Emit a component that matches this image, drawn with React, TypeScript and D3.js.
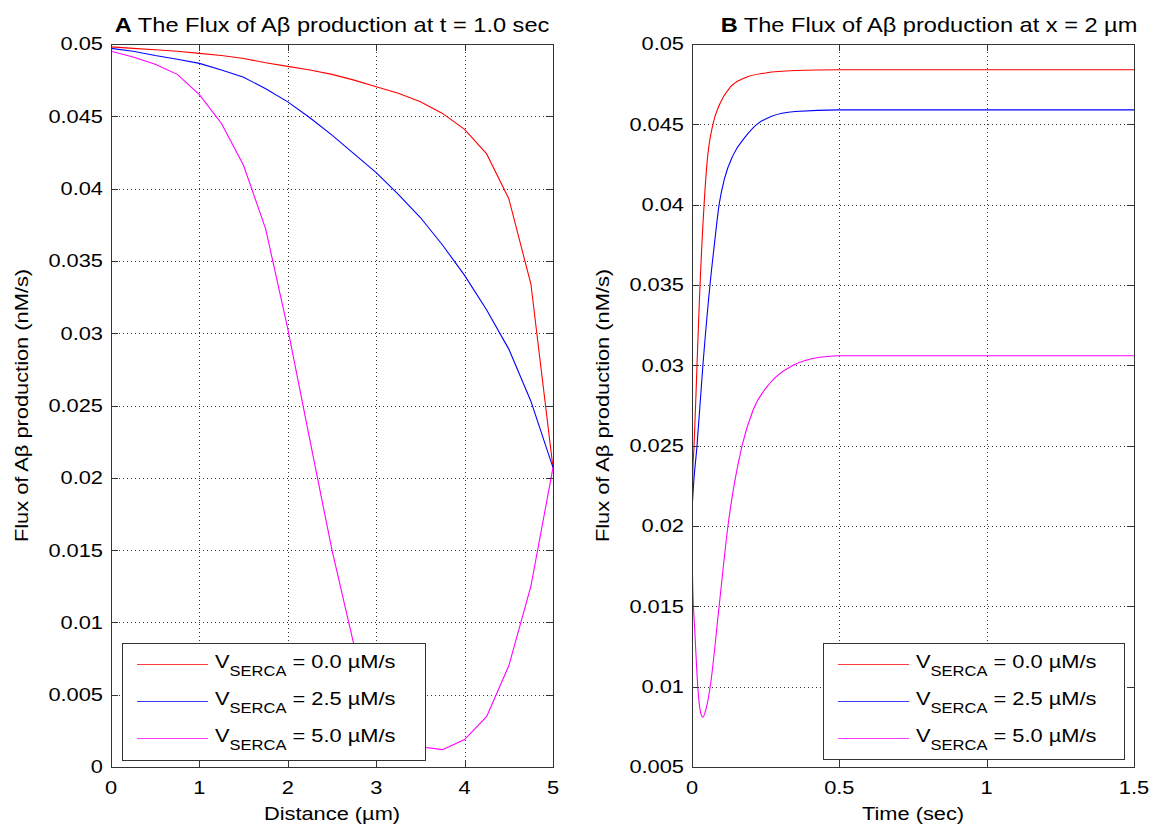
import React from 'react';
import * as d3 from 'd3';

// ---------- Panel A data (t = 1.0 sec) ----------
const distance = [0, 0.25, 0.5, 0.75, 1, 1.25, 1.5, 1.75, 2, 2.25, 2.5, 2.75, 3, 3.25, 3.5, 3.75, 4, 4.25, 4.5, 4.75, 5];
const fluxA_V00 = [0.0498, 0.0497, 0.0496, 0.0495, 0.04935, 0.0492, 0.049, 0.0487, 0.04845, 0.0482, 0.0479, 0.0475, 0.04705, 0.0466, 0.046, 0.0452, 0.0441, 0.0424, 0.0393, 0.0334, 0.0207];
const fluxA_V25 = [0.0497, 0.0495, 0.0492, 0.04895, 0.04866, 0.0482, 0.0477, 0.0469, 0.046, 0.0449, 0.0437, 0.0424, 0.0411, 0.0396, 0.038, 0.0361, 0.034, 0.0316, 0.0289, 0.0253, 0.0207];
const fluxA_V50 = [0.0495, 0.0491, 0.0486, 0.0479, 0.0465, 0.0445, 0.0416, 0.0372, 0.0303, 0.0226, 0.015, 0.0084, 0.0046, 0.0024, 0.0014, 0.0012, 0.0019, 0.0035, 0.007, 0.0125, 0.0207];

// ---------- Panel B data (x = 2 um) ----------
const timeB_V00 = [0, 0.003, 0.007, 0.017, 0.025, 0.041, 0.051, 0.071, 0.095, 0.129, 0.18, 0.25, 0.35, 0.5, 1.0, 1.5];
const fluxB_V00 = [0.0208, 0.0235, 0.025, 0.03, 0.034, 0.04, 0.0426, 0.045, 0.0463, 0.0473, 0.0479, 0.0482, 0.04835, 0.0484, 0.0484, 0.0484];
const timeB_V25 = [0, 0.005, 0.017, 0.037, 0.061, 0.077, 0.092, 0.11, 0.14, 0.18, 0.22, 0.27, 0.35, 0.5, 1.0, 1.5];
const fluxB_V25 = [0.021, 0.0225, 0.025, 0.03, 0.035, 0.0377, 0.04, 0.0416, 0.0431, 0.0442, 0.045, 0.0455, 0.0458, 0.0459, 0.0459, 0.0459];
const timeB_V50 = [0, 0.002, 0.01, 0.02, 0.028, 0.037, 0.046, 0.061, 0.092, 0.122, 0.17, 0.207, 0.265, 0.343, 0.434, 0.5, 1.0, 1.5];
const fluxB_V50 = [0.0186, 0.0166, 0.0133, 0.0099, 0.0085, 0.0081, 0.0085, 0.0099, 0.015, 0.02, 0.025, 0.0272, 0.0289, 0.03, 0.0305, 0.0306, 0.0306, 0.0306];

// ---------- ticks ----------
const xTicksA = [0, 1, 2, 3, 4, 5];
const xTickLabelsA = ['0', '1', '2', '3', '4', '5'];
const yTicksA = [0, 0.005, 0.01, 0.015, 0.02, 0.025, 0.03, 0.035, 0.04, 0.045, 0.05];
const yTickLabelsA = ['0', '0.005', '0.01', '0.015', '0.02', '0.025', '0.03', '0.035', '0.04', '0.045', '0.05'];
const xTicksB = [0, 0.5, 1, 1.5];
const xTickLabelsB = ['0', '0.5', '1', '1.5'];
const yTicksB = [0.005, 0.01, 0.015, 0.02, 0.025, 0.03, 0.035, 0.04, 0.045, 0.05];
const yTickLabelsB = ['0.005', '0.01', '0.015', '0.02', '0.025', '0.03', '0.035', '0.04', '0.045', '0.05'];

const legendValues = ['0.0', '2.5', '5.0'];
const seriesColors = ['#ff0000', '#0000ff', '#ff00ff'];
const legendLineColors = ['#ff3a3a', '#3a3aff', '#ff3aff'];

const SX = 1.18;
const FONT = '"Liberation Sans", Arial, Helvetica, sans-serif';

function T(props: any) {
  const { x, y, anchor = 'start', size = 18.5, weight = 'normal', rotate = 0, dy, children } = props;
  return (
    <text
      transform={`translate(${x},${y}) rotate(${rotate}) scale(${SX},1)`}
      textAnchor={anchor}
      fontSize={size}
      fontFamily={FONT}
      fontWeight={weight}
      dy={dy}
      fill="#000"
    >
      {children}
    </text>
  );
}

function Legend({ x, y, w, h }: any) {
  const rows = [23, 60, 97];
  return (
    <g>
      <rect x={x + 0.5} y={y + 0.5} width={w} height={h} fill="#fff" stroke="#333" strokeWidth={1} />
      {legendValues.map((v, i) => (
        <g key={i}>
          <line x1={x + 15} x2={x + 86} y1={y + rows[i] - 1.5} y2={y + rows[i] - 1.5} stroke={legendLineColors[i]} strokeWidth={1} />
          <text
            transform={`translate(${x + 93},${y + rows[i] + 2}) scale(${SX},1)`}
            fontSize={18.5}
            fontFamily={FONT}
            fill="#000"
          >
            <tspan>V</tspan>
            <tspan fontSize={14} dy={8}>SERCA</tspan>
            <tspan dy={-8}>{` = ${v} \u00b5M/s`}</tspan>
          </text>
        </g>
      ))}
    </g>
  );
}

function Panel(props: any) {
  const {
    id, left, right, top, bottom, xDomain, yDomain, xTicks, xTickLabels, yTicks, yTickLabels,
    series, curve, xLabel, titleLetter, titleRest, titleX, legend,
  } = props;
  const x = d3.scaleLinear().domain(xDomain).range([left, right]);
  const y = d3.scaleLinear().domain(yDomain).range([bottom, top]);
  const line = d3.line<[number, number]>().x(d => x(d[0])).y(d => y(d[1])).curve(curve);
  const tickLen = 7;
  const px = (v: number) => Math.round(v) + 0.5;
  const innerX = xTicks.filter((t: number) => t > xDomain[0] && t < xDomain[1]);
  const innerY = yTicks.filter((t: number) => t > yDomain[0] && t < yDomain[1]);
  return (
    <g>
      <rect x={left} y={top} width={right - left} height={bottom - top} fill="#fff" />
      <defs>
        <clipPath id={`clip-${id}`}>
          <rect x={left} y={top} width={right - left} height={bottom - top} />
        </clipPath>
      </defs>
      {innerX.map((t: number) => (
        <line key={`gx${t}`} x1={px(x(t))} x2={px(x(t))} y1={top} y2={bottom} stroke="#333" strokeWidth={1} strokeDasharray="1,3" />
      ))}
      {innerY.map((t: number) => (
        <line key={`gy${t}`} x1={left} x2={right} y1={px(y(t))} y2={px(y(t))} stroke="#333" strokeWidth={1} strokeDasharray="1,3" />
      ))}
      <g clipPath={`url(#clip-${id})`}>
        {series.map((s: any, i: number) => (
          <path key={i} d={line(s.xs.map((v: number, k: number) => [v, s.ys[k]]) as any) || ''} fill="none" stroke={s.color} strokeWidth={1.1} />
        ))}
      </g>
      <rect x={px(left)} y={px(top)} width={Math.round(right - left)} height={Math.round(bottom - top)} fill="none" stroke="#333" strokeWidth={1} />
      {xTicks.map((t: number) => (
        <g key={`tx${t}`}>
          <line x1={px(x(t))} x2={px(x(t))} y1={bottom} y2={bottom - tickLen} stroke="#333" />
          <line x1={px(x(t))} x2={px(x(t))} y1={top} y2={top + tickLen} stroke="#333" />
        </g>
      ))}
      {yTicks.map((t: number) => (
        <g key={`ty${t}`}>
          <line x1={left} x2={left + tickLen} y1={px(y(t))} y2={px(y(t))} stroke="#333" />
          <line x1={right} x2={right - tickLen} y1={px(y(t))} y2={px(y(t))} stroke="#333" />
        </g>
      ))}
      {legend && <Legend {...legend} />}
      {xTicks.map((t: number, i: number) => (
        <T key={`lx${t}`} x={x(t)} y={bottom + 27} anchor="middle">{xTickLabels[i]}</T>
      ))}
      {yTicks.map((t: number, i: number) => (
        <T key={`ly${t}`} x={left - 8} y={y(t)} anchor="end" dy="0.35em">{yTickLabels[i]}</T>
      ))}
      <T x={(left + right) / 2} y={bottom + 53} anchor="middle">{xLabel}</T>
      <T x={left - 89} y={(top + bottom) / 2} anchor="middle" rotate={-90} dy="0.35em">{'Flux of A\u03b2 production (nM/s)'}</T>
      <text transform={`translate(${titleX},32) scale(${SX},1)`} textAnchor="middle" fontSize={20} fontFamily={FONT} fill="#000">
        <tspan fontWeight="bold">{titleLetter}</tspan>
        <tspan>{titleRest}</tspan>
      </text>
    </g>
  );
}

export default function App() {
  return (
    <svg width={1158} height={830} style={{ position: 'absolute', left: 0, top: 0, background: '#fff' }}>
      <rect x={0} y={0} width={1158} height={830} fill="#fff" />
      <Panel
        id="A"
        left={111}
        right={553}
        top={44}
        bottom={767}
        xDomain={[0, 5]}
        yDomain={[0, 0.05]}
        xTicks={xTicksA}
        xTickLabels={xTickLabelsA}
        yTicks={yTicksA}
        yTickLabels={yTickLabelsA}
        curve={d3.curveLinear}
        series={[
          { xs: distance, ys: fluxA_V00, color: seriesColors[0] },
          { xs: distance, ys: fluxA_V25, color: seriesColors[1] },
          { xs: distance, ys: fluxA_V50, color: seriesColors[2] },
        ]}
        xLabel={'Distance (\u00b5m)'}
        titleLetter="A"
        titleRest={' The Flux of A\u03b2 production at t = 1.0 sec'}
        titleX={332}
        legend={{ x: 122, y: 643, w: 303, h: 117 }}
      />
      <Panel
        id="B"
        left={692}
        right={1134}
        top={44}
        bottom={767}
        xDomain={[0, 1.5]}
        yDomain={[0.005, 0.05]}
        xTicks={xTicksB}
        xTickLabels={xTickLabelsB}
        yTicks={yTicksB}
        yTickLabels={yTickLabelsB}
        curve={d3.curveMonotoneX}
        series={[
          { xs: timeB_V00, ys: fluxB_V00, color: seriesColors[0] },
          { xs: timeB_V25, ys: fluxB_V25, color: seriesColors[1] },
          { xs: timeB_V50, ys: fluxB_V50, color: seriesColors[2] },
        ]}
        xLabel="Time (sec)"
        titleLetter="B"
        titleRest={' The Flux of A\u03b2 production at x = 2 \u00b5m'}
        titleX={929}
        legend={{ x: 823, y: 643, w: 301, h: 116 }}
      />
    </svg>
  );
}
